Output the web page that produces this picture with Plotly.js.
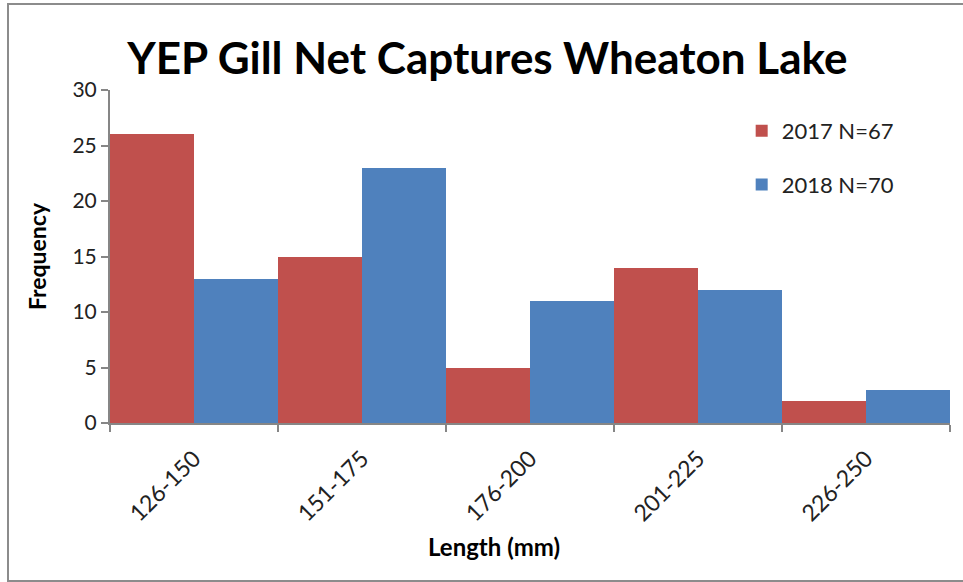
<!DOCTYPE html>
<html>
<head>
<meta charset="utf-8">
<script src="https://cdn.plot.ly/plotly-3.0.1.min.js"></script>
<style>
  html, body { margin: 0; padding: 0; background: #fff; overflow: hidden; }
  #wrap { position: relative; width: 963px; height: 582px; overflow: hidden; }
  #chart { width: 963px; height: 582px; }
  #frame { position: absolute; left: 7px; top: 3px; width: 970px; height: 575px;
           border: 2px solid #8c8c8c; border-right: none; pointer-events: none; }
</style>
</head>
<body>
<div id="wrap">
  <div id="chart"></div>
  <div id="frame"></div>
</div>
<script>
const categories = ["126-150", "151-175", "176-200", "201-225", "226-250"];
const values2017 = [26, 15, 5, 14, 2];
const values2018 = [13, 23, 11, 12, 3];
const seriesNames = ["2017 N=67", "2018 N=70"];
const yTicks = [0, 5, 10, 15, 20, 25, 30];

const font = "Lato, 'Open Sans', sans-serif";

const traces = [
  { type: "bar", x: categories, y: values2017, name: seriesNames[0], legendgroup: "a",
    marker: { color: "#C0504D" } },
  { type: "bar", x: categories, y: values2018, name: seriesNames[1], legendgroup: "b",
    marker: { color: "#4F81BD" } }
];

const layout = {
  width: 963, height: 582,
  margin: { l: 110, r: 13, t: 90, b: 159 },
  paper_bgcolor: "#fff", plot_bgcolor: "#fff",
  font: { family: font, color: "#222", size: 20 },
  barmode: "group", bargap: 0, bargroupgap: 0,
  title: { text: "<b>YEP Gill Net Captures Wheaton Lake</b>",
           font: { family: font, size: 44, color: "#000" },
           x: 0.506, xanchor: "center", y: 0.9, yanchor: "middle" },
  xaxis: {
    type: "category",
    showline: true, linecolor: "#868686", linewidth: 2,
    ticks: "outside", tickson: "boundaries", ticklen: 7, tickcolor: "#868686", tickwidth: 2,
    tickangle: -45, tickfont: { size: 23, family: font, color: "#222" },
    ticklabelstandoff: 11,
    showgrid: false, zeroline: false
  },
  yaxis: {
    range: [0, 30], tickvals: yTicks,
    showline: true, linecolor: "#868686", linewidth: 2,
    ticks: "outside", ticklen: 7, tickcolor: "#868686", tickwidth: 2,
    tickfont: { size: 21, family: font, color: "#222" },
    showgrid: false, zeroline: false,
    title: { text: "<b>Frequency</b>", font: { size: 23, family: font, color: "#000" }, standoff: 19 }
  },
  annotations: [{
    text: "<b>Length (mm)</b>", xref: "paper", yref: "paper",
    x: 0.457, y: -0.372, xanchor: "center", yanchor: "middle", showarrow: false,
    font: { size: 24, family: font, color: "#000" }
  }],
  legend: {
    x: 0.752, xanchor: "left", y: 0.94, yanchor: "top",
    bgcolor: "rgba(0,0,0,0)",
    font: { size: 22, family: font, color: "#222" },
    traceorder: "grouped", tracegroupgap: 22,
    itemwidth: 30
  },
  showlegend: true
};

Plotly.newPlot("chart", traces, layout, { displayModeBar: false, staticPlot: true });
</script>
</body>
</html>
